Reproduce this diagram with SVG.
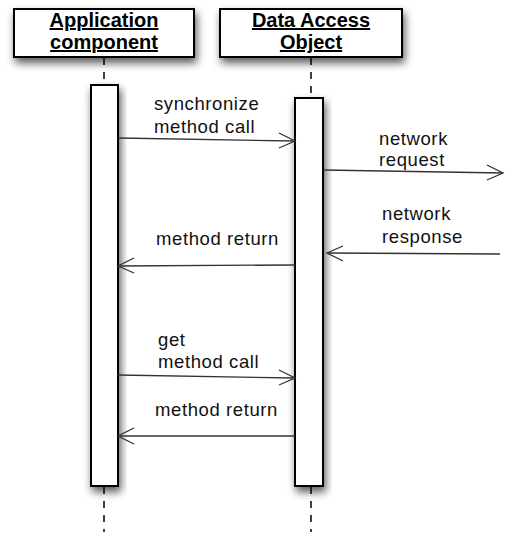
<svg xmlns="http://www.w3.org/2000/svg" width="525" height="549" viewBox="0 0 525 549">
<style>
.box{fill:#fff;stroke:#000;stroke-width:2}
.act{fill:#fff;stroke:#000;stroke-width:2}
.life{stroke:#000;stroke-width:1.5;stroke-dasharray:7,7;fill:none}
.msg{stroke:#333;stroke-width:1.3;fill:none}
.head{stroke:#333;stroke-width:1.3;fill:none}
.hdr{font-family:"Liberation Sans",Arial,sans-serif;font-weight:bold;font-size:20px;text-anchor:middle;text-decoration:underline;fill:#000}
.lbl{font-family:"Liberation Sans",Arial,sans-serif;font-size:18.5px;letter-spacing:0.6px;fill:#111}
</style>
<defs>
<filter id="sh" x="-30%" y="-30%" width="160%" height="160%">
<feDropShadow dx="2" dy="5" stdDeviation="4" flood-color="#000" flood-opacity="0.65"/>
</filter>
</defs>
<rect width="525" height="549" fill="#fff"/>
<g id="lifelines">
<line class="life" x1="104" y1="58" x2="104" y2="85"/>
<line class="life" x1="104" y1="487" x2="104" y2="532"/>
<line class="life" x1="311" y1="58" x2="311" y2="98"/>
<line class="life" x1="311" y1="487" x2="311" y2="532"/>
</g>
<g id="app">
<rect class="box" x="14" y="9" width="180" height="48" filter="url(#sh)"/>
<text class="hdr" x="104" y="27">Application</text>
<text class="hdr" x="104" y="49">component</text>
</g>
<g id="dao">
<rect class="box" x="220" y="9" width="182" height="48" filter="url(#sh)"/>
<text class="hdr" x="311" y="27">Data Access</text>
<text class="hdr" x="311" y="49">Object</text>
</g>
<g id="app-activation">
<rect class="act" x="91" y="85" width="27" height="401" filter="url(#sh)"/>
</g>
<g id="dao-activation">
<rect class="act" x="295" y="98" width="28" height="388" filter="url(#sh)"/>
</g>
<g id="connectors">
<line class="msg" x1="118" y1="138" x2="295" y2="141"/>
<polyline class="head" points="279,133 295,141 279,148"/>
<line class="msg" x1="323" y1="170" x2="503" y2="173"/>
<polyline class="head" points="487,165 503,173 487,180"/>
<line class="msg" x1="500" y1="254" x2="327" y2="253"/>
<polyline class="head" points="343,246 327,253 343,261"/>
<line class="msg" x1="295" y1="265" x2="118" y2="266"/>
<polyline class="head" points="134,258 118,266 134,273"/>
<line class="msg" x1="118" y1="375" x2="295" y2="378"/>
<polyline class="head" points="279,370 295,378 279,385"/>
<line class="msg" x1="295" y1="436" x2="118" y2="436"/>
<polyline class="head" points="134,428 118,436 134,444"/>
</g>
<g id="labels">
<text class="lbl" x="154" y="110">synchronize</text>
<text class="lbl" x="154" y="133">method call</text>
<text class="lbl" x="379" y="145">network</text>
<text class="lbl" x="379" y="166">request</text>
<text class="lbl" x="382" y="220">network</text>
<text class="lbl" x="382" y="243">response</text>
<text class="lbl" x="156" y="245">method return</text>
<text class="lbl" x="158" y="346">get</text>
<text class="lbl" x="158" y="368">method call</text>
<text class="lbl" x="155" y="416">method return</text>
</g>
</svg>
